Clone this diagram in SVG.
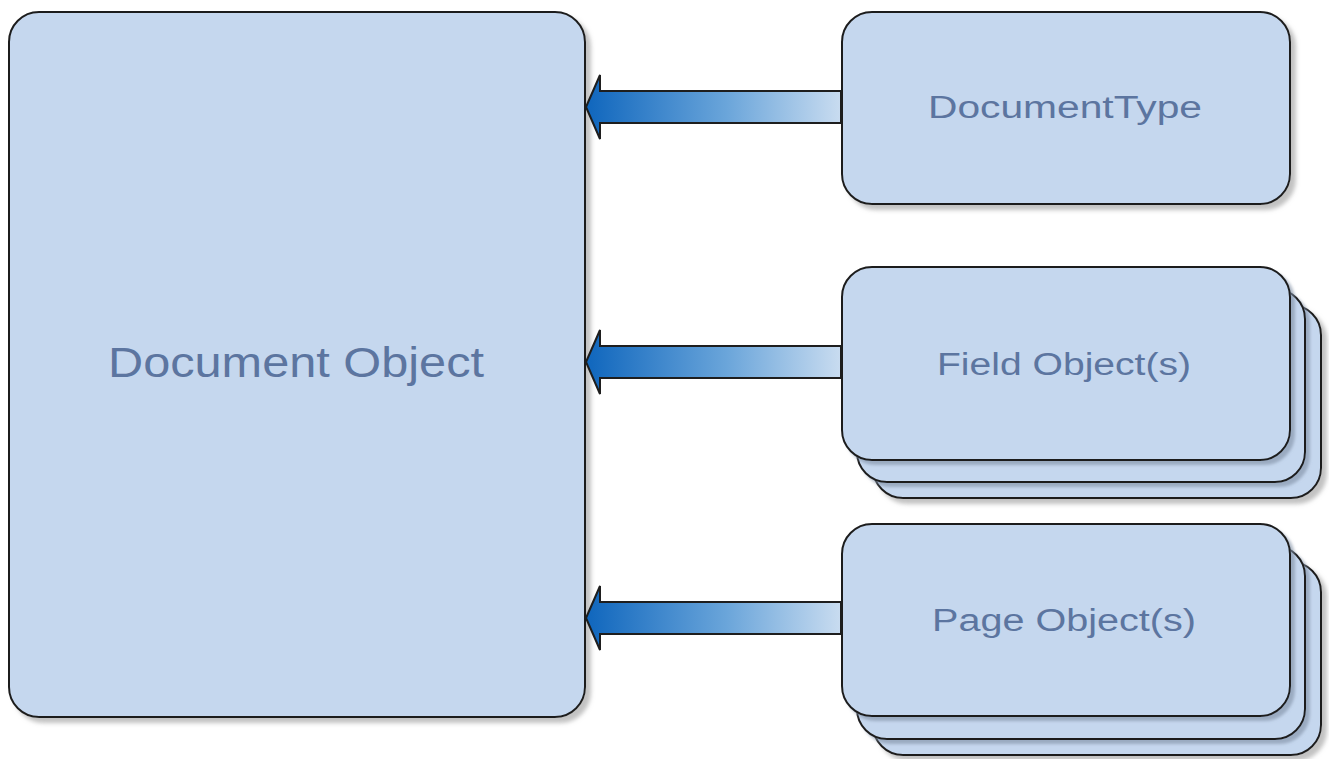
<svg xmlns="http://www.w3.org/2000/svg" width="1329" height="759" viewBox="0 0 1329 759">
<defs>
<linearGradient id="ag" x1="0" y1="0" x2="1" y2="0">
<stop offset="0" stop-color="#0f66bd"/>
<stop offset="0.55" stop-color="#6aa5da"/>
<stop offset="1" stop-color="#c9dcf0"/>
</linearGradient>
<filter id="sh" x="-5%" y="-5%" width="115%" height="115%">
<feDropShadow dx="5" dy="5" stdDeviation="2" flood-color="#9a9a9a" flood-opacity="0.6"/>
</filter>
<filter id="sh2" x="-5%" y="-5%" width="115%" height="115%">
<feDropShadow dx="4" dy="4" stdDeviation="1.5" flood-color="#7e8ea3" flood-opacity="0.6"/>
</filter>
</defs>
<style>
.box{fill:#c5d7ee;stroke:#1e1e1e;stroke-width:2}
.lbl{font-family:"Liberation Sans",Arial,sans-serif;fill:#5c75a0;text-anchor:middle}
.arr{fill:url(#ag);stroke:#1e1e1e;stroke-width:2;stroke-linejoin:miter}
</style>
<rect width="1329" height="759" fill="#ffffff"/>
<g id="document-object">
<rect class="box" x="9" y="12" width="576" height="705" rx="30" filter="url(#sh)"/>
<text class="lbl" x="296" y="377" font-size="43" textLength="376" lengthAdjust="spacingAndGlyphs">Document Object</text>
</g>
<g id="document-type">
<rect class="box" x="842" y="12" width="448" height="192" rx="30" filter="url(#sh)"/>
<text class="lbl" x="1065" y="118" font-size="31" textLength="274" lengthAdjust="spacingAndGlyphs">DocumentType</text>
</g>
<g id="field-objects">
<rect class="box" x="873" y="305" width="448" height="193" rx="30" filter="url(#sh)"/>
<rect class="box" x="857" y="289" width="448" height="193" rx="30" filter="url(#sh2)"/>
<rect class="box" x="842" y="267" width="448" height="193" rx="30" filter="url(#sh2)"/>
<text class="lbl" x="1064" y="375" font-size="31" textLength="254" lengthAdjust="spacingAndGlyphs">Field Object(s)</text>
</g>
<g id="page-objects">
<rect class="box" x="873" y="562" width="448" height="193" rx="30" filter="url(#sh)"/>
<rect class="box" x="857" y="546" width="448" height="193" rx="30" filter="url(#sh2)"/>
<rect class="box" x="842" y="524" width="448" height="192" rx="30" filter="url(#sh2)"/>
<text class="lbl" x="1064" y="631" font-size="31" textLength="264" lengthAdjust="spacingAndGlyphs">Page Object(s)</text>
</g>
<g id="connectors">
<path class="arr" d="M586,107 L600,75 L600,91 L841,91 L841,123 L600,123 L600,139 Z"/>
<path class="arr" d="M586,362 L600,330 L600,346 L841,346 L841,378 L600,378 L600,394 Z"/>
<path class="arr" d="M586,618 L600,586 L600,602 L841,602 L841,634 L600,634 L600,650 Z"/>
</g>
</svg>
